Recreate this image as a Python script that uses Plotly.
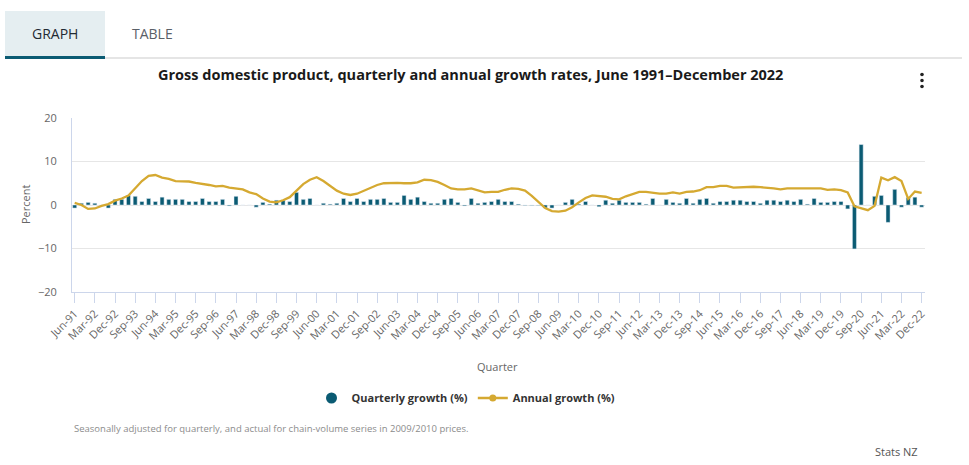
import plotly.graph_objects as go

# ---------------- data ----------------
months = ["Mar", "Jun", "Sep", "Dec"]
quarters = []
for yr in range(1991, 2023):
    for m in months:
        if yr == 1991 and m == "Mar":
            continue
        quarters.append(f"{m}-{str(yr)[2:]}")

quarterly_growth = [
    -0.7, 0.4, 0.6, 0.4, 0.0, -0.7, 1.3, 1.3, 2.2, 2.0,
    0.8, 1.5, 0.8, 1.8, 1.3, 1.3, 1.3, 0.8, 0.8, 1.5,
    0.8, 0.8, 1.3, -0.2, 2.0, 0.0, 0.0, -0.5, 0.6, 0.2,
    1.1, 1.1, 0.8, 2.9, 1.3, 1.5, 0.0, 0.4, 0.2, 0.4,
    1.5, 0.8, 1.5, 0.8, 1.3, 1.3, 1.5, 0.6, 0.6, 2.2,
    1.3, 1.8, 0.8, 0.4, 0.4, 1.3, 1.5, 0.6, -0.2, 1.5,
    0.4, 0.6, 0.8, 1.3, 0.8, 0.8, 0.2, -0.1, -0.1, -0.1,
    -0.7, -0.7, 0.0, 0.6, 1.3, 0.2, 0.8, 0.0, -0.4, 1.1,
    0.4, 1.1, 0.6, 0.6, 0.6, 0.2, 1.5, 0.0, 1.3, 0.6,
    0.4, 1.5, 0.4, 1.3, 1.5, 0.4, 0.8, 0.8, 1.1, 1.1,
    0.8, 0.8, 0.4, 1.1, 1.1, 0.8, 1.1, 0.8, 1.3, 0.2,
    1.5, 0.6, 0.6, 0.8, 0.8, -0.9, -10.1, 13.9, 0.0, 2.0,
    2.2, -4.0, 3.6, -0.5, 1.7, 1.8, -0.5,
]

annual_growth = [
    0.5, 0.0, -0.9, -0.8, -0.2, 0.2, 1.0, 1.5, 2.2, 3.8,
    5.5, 6.7, 6.9, 6.3, 6.0, 5.5, 5.5, 5.4, 5.1, 4.9,
    4.6, 4.3, 4.4, 4.0, 3.8, 3.6, 2.9, 2.5, 1.5, 0.8,
    0.6, 1.1, 1.8, 3.4, 4.8, 5.8, 6.4, 5.5, 4.4, 3.3,
    2.6, 2.3, 2.6, 3.3, 4.0, 4.6, 5.0, 5.1, 5.1, 5.0,
    5.0, 5.2, 5.8, 5.7, 5.3, 4.6, 3.8, 3.6, 3.6, 3.8,
    3.4, 2.9, 3.0, 3.0, 3.5, 3.8, 3.7, 3.3, 2.1, 0.6,
    -0.7, -1.4, -1.5, -1.3, -0.5, 0.6, 1.6, 2.2, 2.1, 1.9,
    1.4, 1.3, 2.0, 2.5, 3.0, 3.0, 2.8, 2.6, 2.6, 2.9,
    2.6, 3.0, 3.1, 3.4, 4.1, 4.1, 4.4, 4.4, 4.0, 4.1,
    4.1, 4.2, 4.1, 4.0, 3.8, 3.6, 3.8, 3.8, 3.8, 3.8,
    3.8, 3.8, 3.5, 3.6, 3.4, 2.9, -0.3, -0.8, -1.2, -0.2,
    6.3, 5.7, 6.4, 5.5, 1.4, 3.1, 2.8,
]

tick_labels = [
    "Jun-91", "Mar-92", "Dec-92", "Sep-93", "Jun-94", "Mar-95", "Dec-95",
    "Sep-96", "Jun-97", "Mar-98", "Dec-98", "Sep-99", "Jun-00", "Mar-01",
    "Dec-01", "Sep-02", "Jun-03", "Mar-04", "Dec-04", "Sep-05", "Jun-06",
    "Mar-07", "Dec-07", "Sep-08", "Jun-09", "Mar-10", "Dec-10", "Sep-11",
    "Jun-12", "Mar-13", "Dec-13", "Sep-14", "Jun-15", "Mar-16", "Dec-16",
    "Sep-17", "Jun-18", "Mar-19", "Dec-19", "Sep-20", "Jun-21", "Mar-22",
    "Dec-22",
]

# ---------------- styling ----------------
TEAL = "#0b5b73"
GOLD = "#d5a931"
FONT = "Open Sans"
W, H = 969, 465
L, R, T, B = 72, 44, 118, 173
PW, PH = W - L - R, H - T - B


def px(x):
    return (x - L) / PW


def py(y):
    return (H - B - y) / PH


fig = go.Figure()
fig.add_trace(go.Bar(
    x=quarters, y=quarterly_growth, marker_color=TEAL, width=0.6,
    name="Quarterly growth (%)", showlegend=False,
))
fig.add_trace(go.Scatter(
    x=quarters, y=annual_growth, mode="lines",
    line=dict(color=GOLD, width=2.3), name="Annual growth (%)",
    showlegend=False,
))
# legend proxies
fig.add_trace(go.Scatter(
    x=[None], y=[None], mode="markers",
    marker=dict(color=TEAL, size=11, symbol="circle"),
    name="<b>Quarterly growth (%)</b>",
))
fig.add_trace(go.Scatter(
    x=[None], y=[None], mode="lines+markers",
    marker=dict(color=GOLD, size=7, symbol="circle"),
    line=dict(color=GOLD, width=2.5),
    name="<b>Annual growth (%)</b>",
))

shapes = [
    # tab background
    dict(type="rect", xref="paper", yref="paper", x0=px(5), x1=px(105),
         y0=py(57), y1=py(11), fillcolor="#e5eef1", line_width=0, layer="below"),
    # separator line
    dict(type="line", xref="paper", yref="paper", x0=px(105), x1=px(962),
         y0=py(58), y1=py(58), line=dict(color="#dcdcdc", width=1.5)),
    # active tab underline
    dict(type="line", xref="paper", yref="paper", x0=px(5), x1=px(105),
         y0=py(57.5), y1=py(57.5), line=dict(color=TEAL, width=3)),
]
for yy in (74.5, 80.5, 86.5):
    shapes.append(dict(type="circle", xref="paper", yref="paper",
                       x0=px(920.2), x1=px(923.8), y0=py(yy + 1.8), y1=py(yy - 1.8),
                       fillcolor="#222", line_width=0))

annotations = [
    dict(text="GRAPH", x=px(55), y=py(34),
         font=dict(size=14, color="#1f2a33", family=FONT)),
    dict(text="TABLE", x=px(152), y=py(34),
         font=dict(size=14, color="#5a6068", family=FONT)),
    dict(text="<b>Gross domestic product, quarterly and annual growth rates, June 1991\u2013December 2022</b>",
         x=px(470), y=py(75),
         font=dict(size=14.5, color="#1a1a1a", family=FONT)),
    dict(text="Percent", x=px(25), y=py(205), textangle=-90,
         font=dict(size=11, color="#666666", family=FONT)),
    dict(text="Quarter", x=px(497), y=py(366),
         font=dict(size=11, color="#666666", family=FONT)),
    dict(text="Seasonally adjusted for quarterly, and actual for chain-volume series in 2009/2010 prices.",
         x=px(72), y=py(428), xanchor="left",
         font=dict(size=9.5, color="#8c8c8c", family=FONT)),
    dict(text="Stats NZ", x=px(920), y=py(451), xanchor="right",
         font=dict(size=11, color="#555555", family=FONT)),
]
for a in annotations:
    a["xref"] = "paper"
    a["yref"] = "paper"
    a["showarrow"] = False
    a["yanchor"] = "middle"
    a.setdefault("xanchor", "center")

fig.update_layout(
    width=W, height=H,
    margin=dict(l=L, r=R, t=T, b=B, pad=0),
    paper_bgcolor="white", plot_bgcolor="white",
    font=dict(family=FONT, color="#666666", size=11),
    bargap=0.4,
    shapes=shapes,
    annotations=annotations,
    showlegend=True,
    legend=dict(orientation="h", x=px(466), xanchor="center", y=py(398),
                yanchor="middle", font=dict(size=11, color="#333333", family=FONT),
                itemclick=False, itemdoubleclick=False),
    xaxis=dict(
        type="category", range=[-0.4, 126.5],
        tickmode="array", tickvals=[quarters[i] for i in range(0, 127, 3)],
        ticktext=tick_labels, tickangle=-45,
        ticks="outside", ticklen=10, tickcolor="#ccd6eb", tickwidth=1,
        showline=True, linecolor="#ccd6eb", linewidth=1,
        showgrid=False, zeroline=False, automargin=False,
        tickfont=dict(size=11, color="#666666", family=FONT),
    ),
    yaxis=dict(
        range=[-20, 20], tickvals=[-20, -10, 0, 10, 20],
        showgrid=True, gridcolor="#e6e6e6", gridwidth=1,
        zeroline=False, showline=True, linecolor="#ccd6eb", linewidth=1,
        ticks="", ticklabelstandoff=12, automargin=False,
        tickfont=dict(size=11, color="#666666", family=FONT),
    ),
)

fig.write_html("out.html", config={"displayModeBar": False},
               post_script="document.body.style.margin='0';")
